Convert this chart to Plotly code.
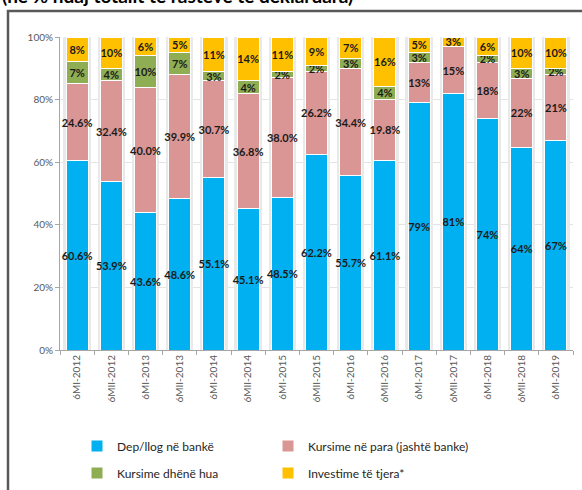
import plotly.graph_objects as go

# Half-year periods
periods = ["6MI-2012", "6MII-2012", "6MI-2013", "6MII-2013", "6MI-2014",
           "6MII-2014", "6MI-2015", "6MII-2015", "6MI-2016", "6MII-2016",
           "6MI-2017", "6MII-2017", "6MI-2018", "6MII-2018", "6MI-2019"]

# Shares of declared cases (%)
dep_banke = [60.6, 53.9, 43.6, 48.6, 55.1, 45.1, 48.5, 62.2, 55.7, 61.1,
             79, 81, 74, 64, 67]
kursime_para = [24.6, 32.4, 40.0, 39.9, 30.7, 36.8, 38.0, 26.2, 34.4, 19.8,
                13, 15, 18, 22, 21]
kursime_hua = [7, 4, 10, 7, 3, 4, 2, 2, 3, 4, 3, 0, 2, 3, 2]
investime = [8, 10, 6, 5, 11, 14, 11, 9, 7, 16, 5, 3, 6, 10, 10]

# Decimal places shown in the labels of the first two series
decimals = [1] * 10 + [0] * 5

y_ticks = [0, 20, 40, 60, 80, 100]
y_tick_labels = ["0%", "20%", "40%", "60%", "80%", "100%"]

series = [
    ("Dep/llog në bankë", dep_banke, "#00B0F0", decimals, "legend"),
    ("Kursime në para (jashtë banke)", kursime_para, "#D99694", decimals, "legend2"),
    ("Kursime dhënë hua", kursime_hua, "#8FAE53", [0] * len(periods), "legend3"),
    ("Investime të tjera*", investime, "#FFC000", [0] * len(periods), "legend4"),
]

FONT = "Lato, 'Open Sans', sans-serif"

fig = go.Figure()

# soft grey shadow behind each column
fig.add_trace(go.Bar(
    x=periods, y=[100] * len(periods), width=0.8,
    marker=dict(color="#E9E9E9", line=dict(width=0)),
    showlegend=False, hoverinfo="skip", xaxis="x", yaxis="y",
))

for name, vals, color, dec, leg in series:
    labels = ["" if v == 0 else f"{v:.{d}f}%" for v, d in zip(vals, dec)]
    fig.add_trace(go.Bar(
        x=periods, y=vals, name=name, width=0.64,
        marker=dict(color=color, line=dict(color="white", width=1)),
        text=labels, texttemplate="%{text}", textposition="inside",
        insidetextanchor="middle", textangle=0, constraintext="none",
        insidetextfont=dict(family=FONT, size=11, color="#1A1A1A", weight="bold"),
        xaxis="x2", yaxis="y2", legend=leg,
    ))

W, H = 582, 490
ML, MR, MT, MB = 60, 9, 37, 140
pw, ph = W - ML - MR, H - MT - MB


def px_x(p):
    return (p - ML) / pw


def px_y(p):
    return (H - MB - p) / ph


axis_common = dict(
    tickfont=dict(family=FONT, size=10, color="#595959"),
)


def legend_at(xp, yp):
    # one legend entry per box, laid out as a 2 x 2 grid
    return dict(
        x=px_x(xp), y=px_y(yp), xanchor="left", yanchor="middle",
        font=dict(family=FONT, size=12, color="#262626"),
        bgcolor="rgba(0,0,0,0)",
    )


fig.update_layout(
    width=W, height=H,
    margin=dict(l=ML, r=MR, t=MT, b=MB, autoexpand=False),
    paper_bgcolor="white", plot_bgcolor="white",
    barmode="stack", barnorm="percent", bargap=0.36,
    font=dict(family=FONT, color="#404040"),
    xaxis=dict(
        type="category", tickangle=-90, ticks="outside", tickson="boundaries",
        ticklen=4, tickcolor="#A6A6A6", showline=True, linecolor="#A6A6A6",
        showgrid=False, **axis_common,
    ),
    yaxis=dict(
        range=[0, 100], tickvals=y_ticks, ticktext=y_tick_labels,
        ticks="outside", ticklen=4, tickcolor="#A6A6A6", showline=True,
        linecolor="#A6A6A6", gridcolor="#E4E4E4", gridwidth=1,
        zeroline=False, **axis_common,
    ),
    xaxis2=dict(type="category", overlaying="x", matches="x", visible=False),
    yaxis2=dict(range=[0, 100], overlaying="y", visible=False),
    legend=legend_at(77, 446),
    legend2=legend_at(268, 446),
    legend3=legend_at(77, 473),
    legend4=legend_at(268, 473),
    shapes=[dict(
        type="rect", xref="paper", yref="paper",
        x0=px_x(8), x1=px_x(600), y0=px_y(520), y1=px_y(11),
        line=dict(color="#595959", width=2.5), fillcolor="rgba(0,0,0,0)",
        layer="below",
    )],
    annotations=[dict(
        text="(në % ndaj totalit të rasteve të deklaruara)",
        xref="paper", yref="paper", x=px_x(0), y=px_y(9),
        xanchor="left", yanchor="bottom", showarrow=False,
        font=dict(family=FONT, size=19, color="black", weight="bold"),
    )],
)

fig.write_html("out.html")
